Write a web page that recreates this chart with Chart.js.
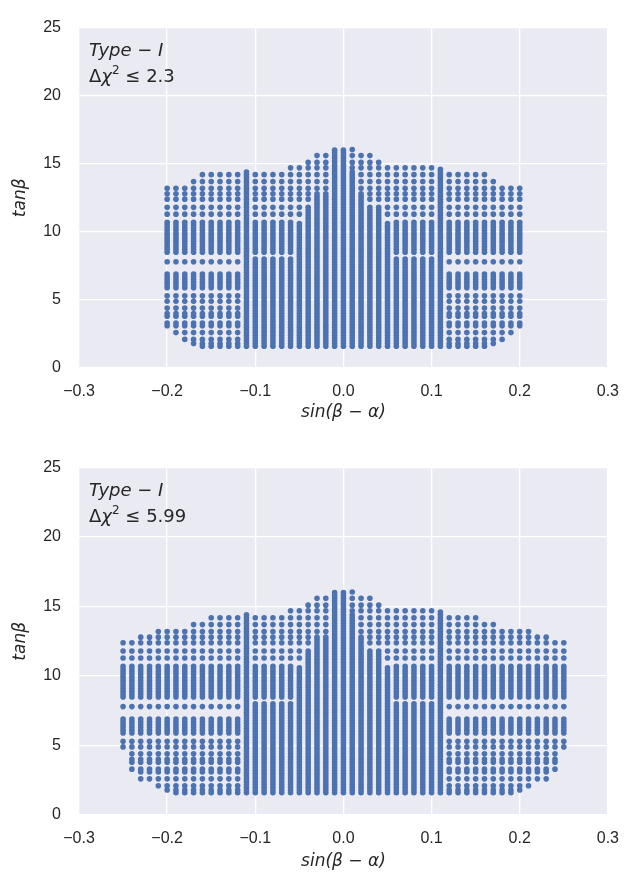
<!DOCTYPE html>
<html>
<head>
<meta charset="utf-8">
<script src="https://cdn.jsdelivr.net/npm/chart.js"></script>
<style>
  html, body { margin: 0; padding: 0; background: #fff; }
  canvas { display: block; }
</style>
</head>
<body>
<canvas id="chartTop" width="633" height="440"></canvas>
<canvas id="chartBottom" width="633" height="439"></canvas>
<script>
// tick labels
const xTicks = [-0.3, -0.2, -0.1, 0.0, 0.1, 0.2, 0.3];
const yTicks = [0, 5, 10, 15, 20, 25];

// tan(beta) levels of the scan: fine levels fill the solid columns,
// sparse levels are the separate rows seen in the outer columns
const fineLevels = [1.6, 1.8, 2.0, 2.2, 2.4, 2.6, 2.8, 3.0, 3.2, 3.4, 3.6, 3.8, 4.0, 4.2, 4.4, 4.6,
  4.8, 5.0, 5.2, 5.4, 5.6, 5.8, 6.0, 6.2, 6.4, 6.6, 6.8, 7.0, 7.2, 7.4, 7.6, 7.8, 8.0, 8.2, 8.4,
  8.6, 8.8, 9.0, 9.2, 9.4, 9.6, 9.8, 10.0, 10.2, 10.4, 10.6, 10.8, 11.0, 11.2, 11.4, 11.6, 11.8,
  12.0, 12.2, 12.4, 12.6, 12.8, 13.0, 13.2, 13.4, 13.6, 13.8, 14.0, 14.2, 14.4, 14.6, 14.8, 15.0,
  15.2, 15.4, 15.6, 15.8, 16.0, 16.2];
const sparseLevels = [1.6, 1.8, 2.1, 2.6, 3.1, 3.3, 3.8, 4.0, 4.4, 4.9, 5.3, 5.9, 6.1, 6.3, 6.5,
  6.7, 6.9, 7.8, 8.5, 8.7, 8.9, 9.1, 9.3, 9.5, 9.7, 9.9, 10.1, 10.3, 10.5, 10.7, 11.3, 11.8, 12.4,
  12.8, 13.2, 13.7, 14.2, 14.7, 15.1, 15.6, 16.05];

// top panel (delta chi^2 <= 2.3): sin(beta-alpha) columns and their tan(beta) range
const xTop = [-0.20, -0.19, -0.18, -0.17, -0.16, -0.15, -0.14, -0.13, -0.12, -0.11, -0.10,
  -0.09, -0.08, -0.07, -0.06, -0.05, -0.04, -0.03, -0.02, -0.01, 0.00, 0.01, 0.02, 0.03, 0.04,
  0.05, 0.06, 0.07, 0.08, 0.09, 0.10, 0.11, 0.12, 0.13, 0.14, 0.15, 0.16, 0.17, 0.18, 0.19, 0.20];
const maxTop = [13.2, 13.4, 13.5, 13.7, 14.2, 14.2, 14.2, 14.2, 14.2, 14.5, 14.4, 14.4, 14.4,
  14.5, 14.7, 14.9, 15.3, 15.6, 15.8, 16.1, 16.1, 16.05, 15.9, 15.6, 15.3, 14.9, 14.7, 14.7,
  14.7, 14.7, 14.7, 14.6, 14.2, 14.2, 14.2, 14.2, 14.2, 13.7, 13.5, 13.4, 13.2];
const minTop = [3.0, 2.5, 2.1, 1.8, 1.6, 1.6, 1.6, 1.6, 1.6, 1.6, 1.6, 1.6, 1.6, 1.6, 1.6, 1.6,
  1.6, 1.6, 1.6, 1.6, 1.6, 1.6, 1.6, 1.6, 1.6, 1.6, 1.6, 1.6, 1.6, 1.6, 1.6, 1.6, 1.6, 1.6, 1.6,
  1.6, 1.6, 1.8, 2.1, 2.5, 3.0];
// tan(beta) below which a column is a solid bar
const solidTop = [0, 0, 0, 0, 0, 0, 0, 0, 0, 99, 8.0, 8.0, 8.0, 8.0, 8.0, 10.7, 11.9, 12.6, 12.6,
  99, 99, 14.4, 12.6, 11.9, 11.9, 10.7, 8.0, 8.0, 8.0, 8.0, 8.0, 99, 0, 0, 0, 0, 0, 0, 0, 0, 0];

// bottom panel (delta chi^2 <= 5.99)
const xBottom = [-0.25, -0.24, -0.23, -0.22, -0.21, -0.20, -0.19, -0.18, -0.17, -0.16, -0.15,
  -0.14, -0.13, -0.12, -0.11, -0.10, -0.09, -0.08, -0.07, -0.06, -0.05, -0.04, -0.03, -0.02,
  -0.01, 0.00, 0.01, 0.02, 0.03, 0.04, 0.05, 0.06, 0.07, 0.08, 0.09, 0.10, 0.11, 0.12, 0.13,
  0.14, 0.15, 0.16, 0.17, 0.18, 0.19, 0.20, 0.21, 0.22, 0.23, 0.24, 0.25];
const maxBottom = [12.4, 12.5, 12.8, 12.8, 13.2, 13.2, 13.3, 13.4, 13.7, 14.0, 14.2, 14.2, 14.2,
  14.2, 14.5, 14.4, 14.4, 14.4, 14.5, 14.7, 14.9, 15.3, 15.6, 15.8, 16.1, 16.1, 16.05, 15.9,
  15.6, 15.3, 14.9, 14.7, 14.7, 14.7, 14.7, 14.7, 14.6, 14.2, 14.2, 14.2, 14.2, 14.0, 13.7,
  13.4, 13.3, 13.2, 13.2, 12.9, 12.8, 12.6, 12.4];
const minBottom = [4.9, 3.2, 2.6, 2.4, 2.1, 1.8, 1.6, 1.6, 1.6, 1.6, 1.6, 1.6, 1.6, 1.6, 1.6, 1.6,
  1.6, 1.6, 1.6, 1.6, 1.6, 1.6, 1.6, 1.6, 1.6, 1.6, 1.6, 1.6, 1.6, 1.6, 1.6, 1.6, 1.6, 1.6, 1.6,
  1.6, 1.6, 1.6, 1.6, 1.6, 1.6, 1.6, 1.6, 1.6, 1.6, 1.8, 2.1, 2.4, 2.6, 3.2, 4.9];
const solidBottom = [0, 0, 0, 0, 0, 0, 0, 0, 0, 0, 0, 0, 0, 0, 99, 8.0, 8.0, 8.0, 8.0, 8.0, 10.7,
  11.9, 12.6, 12.6, 99, 99, 14.4, 12.6, 11.9, 11.9, 10.7, 8.0, 8.0, 8.0, 8.0, 8.0, 99, 0, 0, 0,
  0, 0, 0, 0, 0, 0, 0, 0, 0, 0, 0];

function scanPoints(cols, lo, hi, solid) {
  const pts = [];
  cols.forEach((x, i) => {
    fineLevels.forEach((t) => {
      if (t <= solid[i] && t >= lo[i] && t <= hi[i]) pts.push({ x, y: t });
    });
    sparseLevels.forEach((t) => {
      if (t > solid[i] && t >= lo[i] && t <= hi[i]) pts.push({ x, y: t });
    });
  });
  return pts;
}

const ink = "#262626";
const mathFont = "'DejaVu Sans'";

const panelBg = {
  id: "panelBg",
  beforeDraw(chart) {
    const { ctx, chartArea: a } = chart;
    ctx.save();
    ctx.fillStyle = "#EAEAF2";
    ctx.fillRect(a.left, a.top, a.right - a.left, a.bottom - a.top);
    ctx.restore();
  },
};

const note = {
  id: "note",
  afterDraw(chart, args, opts) {
    const { ctx, chartArea: a } = chart;
    const x0 = a.left + 10;
    ctx.save();
    ctx.fillStyle = ink;
    ctx.textBaseline = "alphabetic";
    ctx.font = `italic 18px ${mathFont}`;
    let x = x0;
    let y = a.top + 28;
    ctx.fillText("Type", x, y);
    x += ctx.measureText("Type").width;
    ctx.font = `18px ${mathFont}`;
    ctx.fillText(" \u2212 ", x, y);
    x += ctx.measureText(" \u2212 ").width;
    ctx.font = `italic 18px ${mathFont}`;
    ctx.fillText("I", x, y);

    y = a.top + 54;
    x = x0;
    ctx.font = `18px ${mathFont}`;
    ctx.fillText("\u0394", x, y);
    x += ctx.measureText("\u0394").width;
    ctx.font = `italic 18px ${mathFont}`;
    ctx.fillText("\u03c7", x, y);
    x += ctx.measureText("\u03c7").width;
    ctx.font = `12px ${mathFont}`;
    ctx.fillText("2", x, y - 8);
    x += ctx.measureText("2").width;
    ctx.font = `18px ${mathFont}`;
    ctx.fillText(" \u2264 " + opts.limit, x, y);
    ctx.restore();
  },
};

function fmtX(v) {
  const r = Math.round(v * 10) / 10;
  return (r < 0 ? "\u2212" : "") + Math.abs(r).toFixed(1);
}

function makeChart(id, pts, plotTop, axisH, titlePad, limit) {
  new Chart(document.getElementById(id), {
    type: "scatter",
    data: {
      datasets: [{
        data: pts,
        backgroundColor: "#4C72B0",
        borderWidth: 0,
        pointRadius: 2.8,
        pointHoverRadius: 2.8,
      }],
    },
    options: {
      responsive: false,
      animation: false,
      events: [],
      layout: { padding: { top: plotTop, right: 13, left: 0, bottom: 0 } },
      plugins: {
        legend: { display: false },
        tooltip: { enabled: false },
        note: { limit },
      },
      scales: {
        x: {
          type: "linear",
          min: -0.3,
          max: 0.3,
          afterBuildTicks: (s) => { s.ticks = xTicks.map((v) => ({ value: v })); },
          afterFit: (s) => { s.height = axisH; },
          ticks: {
            callback: (v) => fmtX(v),
            color: ink,
            padding: 14,
            maxRotation: 0,
            font: { family: "'Liberation Sans'", size: 16 },
          },
          grid: { color: "#ffffff", lineWidth: 1.3, drawTicks: false },
          border: { display: false },
          title: {
            display: true,
            text: "sin(\u03b2 \u2212 \u03b1)",
            color: ink,
            font: { family: mathFont, size: 17, style: "italic" },
            padding: { top: 0, bottom: titlePad },
          },
        },
        y: {
          min: 0,
          max: 25,
          afterBuildTicks: (s) => { s.ticks = yTicks.map((v) => ({ value: v })); },
          afterFit: (s) => { s.width = 79; },
          ticks: {
            color: ink,
            padding: 18,
            font: { family: "'Liberation Sans'", size: 16 },
          },
          grid: { color: "#ffffff", lineWidth: 1.3, drawTicks: false },
          border: { display: false },
          title: {
            display: true,
            text: "tan\u03b2",
            color: ink,
            font: { family: mathFont, size: 17, style: "italic" },
            padding: { top: 10, bottom: 0 },
          },
        },
      },
    },
    plugins: [panelBg, note],
  });
}

makeChart("chartTop", scanPoints(xTop, minTop, maxTop, solidTop), 18, 72, 17, "2.3");
makeChart("chartBottom", scanPoints(xBottom, minBottom, maxBottom, solidBottom), 27, 64, 7, "5.99");
</script>
</body>
</html>
